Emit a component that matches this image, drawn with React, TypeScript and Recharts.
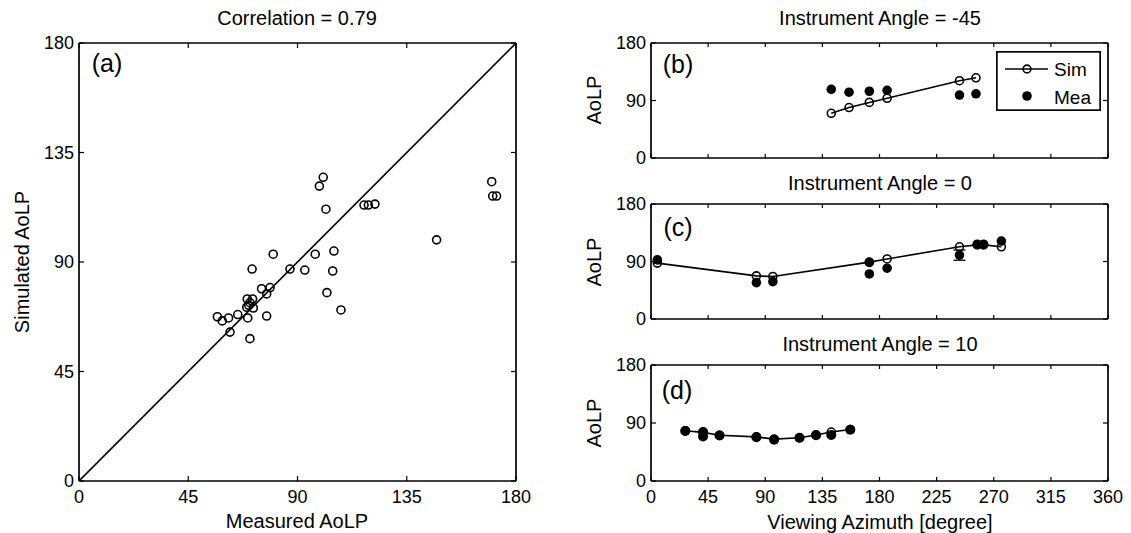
import React from 'react';
import { ScatterChart, Scatter, XAxis, YAxis, ErrorBar, Legend } from 'recharts';

const FONT = "'Liberation Sans', Arial, Helvetica, sans-serif";
const TICK_FONT = 18;
const LABEL_FONT = 20;
const LETTER_FONT = 25;

// (a) measured vs simulated AoLP [deg]
const measuredAoLP = [
  99.0, 100.6, 101.7, 80.0, 71.3, 86.9, 93.0, 97.3, 105.0, 104.5,
  102.1, 107.9, 75.2, 78.7, 77.3, 69.3, 71.5, 70.4, 69.1, 71.8,
  69.9, 69.5, 77.3, 65.4, 61.6, 57.0, 59.0, 62.2, 70.4,
  117.4, 119.2, 121.9, 147.3, 170.0, 170.4, 172.0,
];
const simulatedAoLP = [
  121.2, 124.8, 111.7, 93.2, 87.1, 87.1, 86.7, 93.2, 94.5, 86.3,
  77.4, 70.3, 79.0, 79.5, 76.9, 74.8, 74.8, 73.3, 71.4, 71.1,
  72.2, 67.0, 67.8, 68.4, 67.0, 67.5, 65.8, 61.2, 58.5,
  113.4, 113.4, 113.8, 99.1, 123.0, 117.1, 117.1,
];
const aoLPTicks = [0, 45, 90, 135, 180];
const oneToOne = [0, 180];

// (b) instrument angle -45
const azimuthB = [142, 156, 172, 186, 243, 256];
const simB = [70, 79, 87, 93.5, 121, 125.5];
const meaB = [107.5, 103, 104.5, 106, 98.5, 100.5];

// (c) instrument angle 0
const azimuthSimC = [5, 83, 96, 172, 186, 243, 257, 262, 276];
const simC = [87.5, 67.5, 66.5, 89, 94, 113, 116, 116, 113];
const azimuthMeaC = [5, 83, 96, 172, 172, 186, 243, 257, 262, 276];
const meaC = [92.5, 57, 58.5, 88.5, 70.5, 79.5, 100, 117, 117, 122];
const meaErrC = [0, 0, 0, 0, 0, 0, 8, 0, 0, 0];

// (d) instrument angle 10
const azimuthSimD = [27, 41, 54, 83, 97, 117, 130, 142, 157];
const simD = [78, 75.5, 71, 68.5, 65, 67, 71.5, 76, 80];
const azimuthMeaD = [27, 41, 41, 54, 83, 97, 117, 130, 142, 157];
const meaD = [77.5, 76, 69, 70.5, 68, 64, 67, 71, 71.5, 79.5];

const azimuthTicks = [0, 45, 90, 135, 180, 225, 270, 315, 360];
const panelYTicks = [0, 90, 180];

const zip = (xs: number[], ys: number[], extra?: number[]) =>
  xs.map((x, i) => (extra ? { x, y: ys[i], err: extra[i] } : { x, y: ys[i] }));

const pointsA = zip(measuredAoLP, simulatedAoLP);
const diagonal = zip(oneToOne, oneToOne);
const simPtsB = zip(azimuthB, simB);
const meaPtsB = zip(azimuthB, meaB);
const simPtsC = zip(azimuthSimC, simC);
const meaPtsC = zip(azimuthMeaC, meaC, meaErrC);
const simPtsD = zip(azimuthSimD, simD);
const meaPtsD = zip(azimuthMeaD, meaD);

const AXIS_LINE = { stroke: '#000', strokeWidth: 1.7 };
const LINE_STYLE = { stroke: '#000', strokeWidth: 1.6 };

type Side = 'left' | 'right' | 'top' | 'bottom';

// Inward tick marks (box style) with labels outside the axes.
function tickRenderer(side: Side, len: number, labelled: boolean) {
  return (props: any) => {
    const { x, y, payload } = props;
    const v = payload?.value;
    let line: React.ReactNode = null;
    let label: React.ReactNode = null;
    if (side === 'left') {
      line = <line x1={x} x2={x + len} y1={y} y2={y} />;
      if (labelled)
        label = (
          <text x={x - 5} y={y} textAnchor="end" dominantBaseline="central">
            {v}
          </text>
        );
    } else if (side === 'right') {
      line = <line x1={x} x2={x - len} y1={y} y2={y} />;
    } else if (side === 'top') {
      line = <line x1={x} x2={x} y1={y} y2={y + len} />;
    } else {
      line = <line x1={x} x2={x} y1={y} y2={y - len} />;
      if (labelled)
        label = (
          <text x={x} y={y + 16} textAnchor="middle" dominantBaseline="central">
            {v}
          </text>
        );
    }
    return (
      <g>
        <g stroke="#000" strokeWidth={1.2}>{line}</g>
        <g fill="#000" stroke="none" fontSize={TICK_FONT} fontFamily={FONT}>
          {label}
        </g>
      </g>
    );
  };
}

// Each axis occupies 1px of the chart offset; the axis line sits on the plot edge.
function boxAxes(
  xDomain: number[],
  xTicks: number[],
  yDomain: number[],
  yTicks: number[],
  xLabelled: boolean,
  xLen: number,
  yLen: number
) {
  const common = {
    type: 'number' as const,
    allowDataOverflow: true,
    interval: 0 as const,
    tickSize: 0,
    tickMargin: 0,
    tickLine: false,
    axisLine: AXIS_LINE,
  };
  return [
    <XAxis key="xb" xAxisId="bottom" orientation="bottom" dataKey="x" domain={xDomain} ticks={xTicks} height={1} {...common} tick={tickRenderer('bottom', xLen, xLabelled)} />,
    <XAxis key="xt" xAxisId="top" orientation="top" dataKey="x" domain={xDomain} ticks={xTicks} height={1} {...common} tick={tickRenderer('top', xLen, false)} />,
    <YAxis key="yl" yAxisId="left" orientation="left" dataKey="y" domain={yDomain} ticks={yTicks} width={1} {...common} tick={tickRenderer('left', yLen, true)} />,
    <YAxis key="yr" yAxisId="right" orientation="right" dataKey="y" domain={yDomain} ticks={yTicks} width={1} {...common} tick={tickRenderer('right', yLen, false)} />,
  ];
}

const openCircle = (r: number) => (p: any) =>
  <circle cx={p.cx} cy={p.cy} r={r} fill="none" stroke="#000" strokeWidth={1.6} />;
const filledDot = (r: number) => (p: any) =>
  <circle cx={p.cx} cy={p.cy} r={r} fill="#000" stroke="none" />;
const noMarker = () => <g />;

function SimMeaLegend() {
  return (
    <svg width={105} height={60} style={{ display: 'block' }}>
      <rect x={0.85} y={0.85} width={103.3} height={58.3} fill="#fff" stroke="#000" strokeWidth={1.7} />
      <line x1={9} x2={52} y1={18} y2={18} stroke="#000" strokeWidth={1.6} />
      <circle cx={31} cy={18} r={3.9} fill="none" stroke="#000" strokeWidth={1.6} />
      <circle cx={31} cy={45} r={4.8} fill="#000" />
      <g fontFamily={FONT} fontSize={19} fill="#000">
        <text x={58} y={18} dominantBaseline="central">Sim</text>
        <text x={58} y={46} dominantBaseline="central">Mea</text>
      </g>
    </svg>
  );
}

const abs = (left: number, top: number): React.CSSProperties => ({ position: 'absolute', left, top });

export default function App() {
  return (
    <div style={{ position: 'absolute', left: 0, top: 0, width: 1131, height: 533, background: '#fff', overflow: 'hidden' }}>
      {/* (a) scatter of simulated against measured AoLP */}
      <div style={abs(0, 0)}>
        <ScatterChart width={560} height={533} margin={{ top: 42, right: 43, bottom: 51, left: 78 }}>
          {boxAxes([0, 180], aoLPTicks, [0, 180], aoLPTicks, true, 5, 5)}
          <Scatter xAxisId="top" yAxisId="right" data={diagonal} line={LINE_STYLE} shape={noMarker} isAnimationActive={false} />
          <Scatter xAxisId="bottom" yAxisId="left" data={pointsA} shape={openCircle(4)} isAnimationActive={false} />
        </ScatterChart>
      </div>

      {/* (b) */}
      <div style={abs(560, 0)}>
        <ScatterChart width={571} height={170} margin={{ top: 42, right: 22, bottom: 11, left: 90 }}>
          {boxAxes([0, 360], azimuthTicks, [0, 180], panelYTicks, false, 4, 5)}
          <Scatter name="Sim" xAxisId="bottom" yAxisId="left" data={simPtsB} line={LINE_STYLE} shape={openCircle(4)} isAnimationActive={false} />
          <Scatter name="Mea" xAxisId="top" yAxisId="right" data={meaPtsB} shape={filledDot(4.8)} isAnimationActive={false} />
          <Legend
            layout="vertical"
            align="center"
            verticalAlign="middle"
            content={() => <SimMeaLegend />}
            wrapperStyle={{ left: 436, top: 51, width: 105, height: 60, margin: 0, padding: 0 }}
          />
        </ScatterChart>
      </div>

      {/* (c) */}
      <div style={abs(560, 170)}>
        <ScatterChart width={571} height={160} margin={{ top: 33, right: 22, bottom: 10, left: 90 }}>
          {boxAxes([0, 360], azimuthTicks, [0, 180], panelYTicks, false, 4, 5)}
          <Scatter xAxisId="bottom" yAxisId="left" data={simPtsC} line={LINE_STYLE} shape={openCircle(4)} isAnimationActive={false} />
          <Scatter xAxisId="top" yAxisId="right" data={meaPtsC} shape={filledDot(4.8)} isAnimationActive={false}>
            <ErrorBar dataKey="err" direction="y" width={6} stroke="#000" strokeWidth={1.3} />
          </Scatter>
        </ScatterChart>
      </div>

      {/* (d) */}
      <div style={abs(560, 330)}>
        <ScatterChart width={571} height={203} margin={{ top: 34, right: 22, bottom: 51, left: 90 }}>
          {boxAxes([0, 360], azimuthTicks, [0, 180], panelYTicks, true, 4, 5)}
          <Scatter xAxisId="bottom" yAxisId="left" data={simPtsD} line={LINE_STYLE} shape={openCircle(4)} isAnimationActive={false} />
          <Scatter xAxisId="top" yAxisId="right" data={meaPtsD} shape={filledDot(5)} isAnimationActive={false} />
        </ScatterChart>
      </div>

      {/* titles, axis names and panel letters */}
      <svg width={1131} height={533} style={{ position: 'absolute', left: 0, top: 0, pointerEvents: 'none' }}>
        <g fontFamily={FONT} fontSize={LABEL_FONT} fill="#000" textAnchor="middle" dominantBaseline="central">
          <text x={297} y={18}>Correlation = 0.79</text>
          <text x={880} y={18}>Instrument Angle = -45</text>
          <text x={880} y={183}>Instrument Angle = 0</text>
          <text x={880} y={344}>Instrument Angle = 10</text>
          <text x={297} y={521}>Measured AoLP</text>
          <text x={880} y={522}>Viewing Azimuth [degree]</text>
          <text x={22} y={262} transform="rotate(-90 22 262)">Simulated AoLP</text>
          <text x={594} y={100} transform="rotate(-90 594 100)">AoLP</text>
          <text x={594} y={262} transform="rotate(-90 594 262)">AoLP</text>
          <text x={594} y={423} transform="rotate(-90 594 423)">AoLP</text>
        </g>
        <g fontFamily={FONT} fontSize={LETTER_FONT} fill="#000" textAnchor="middle" dominantBaseline="central">
          <text x={107} y={63}>(a)</text>
          <text x={678} y={64}>(b)</text>
          <text x={678} y={227}>(c)</text>
          <text x={677} y={390}>(d)</text>
        </g>
      </svg>
    </div>
  );
}
